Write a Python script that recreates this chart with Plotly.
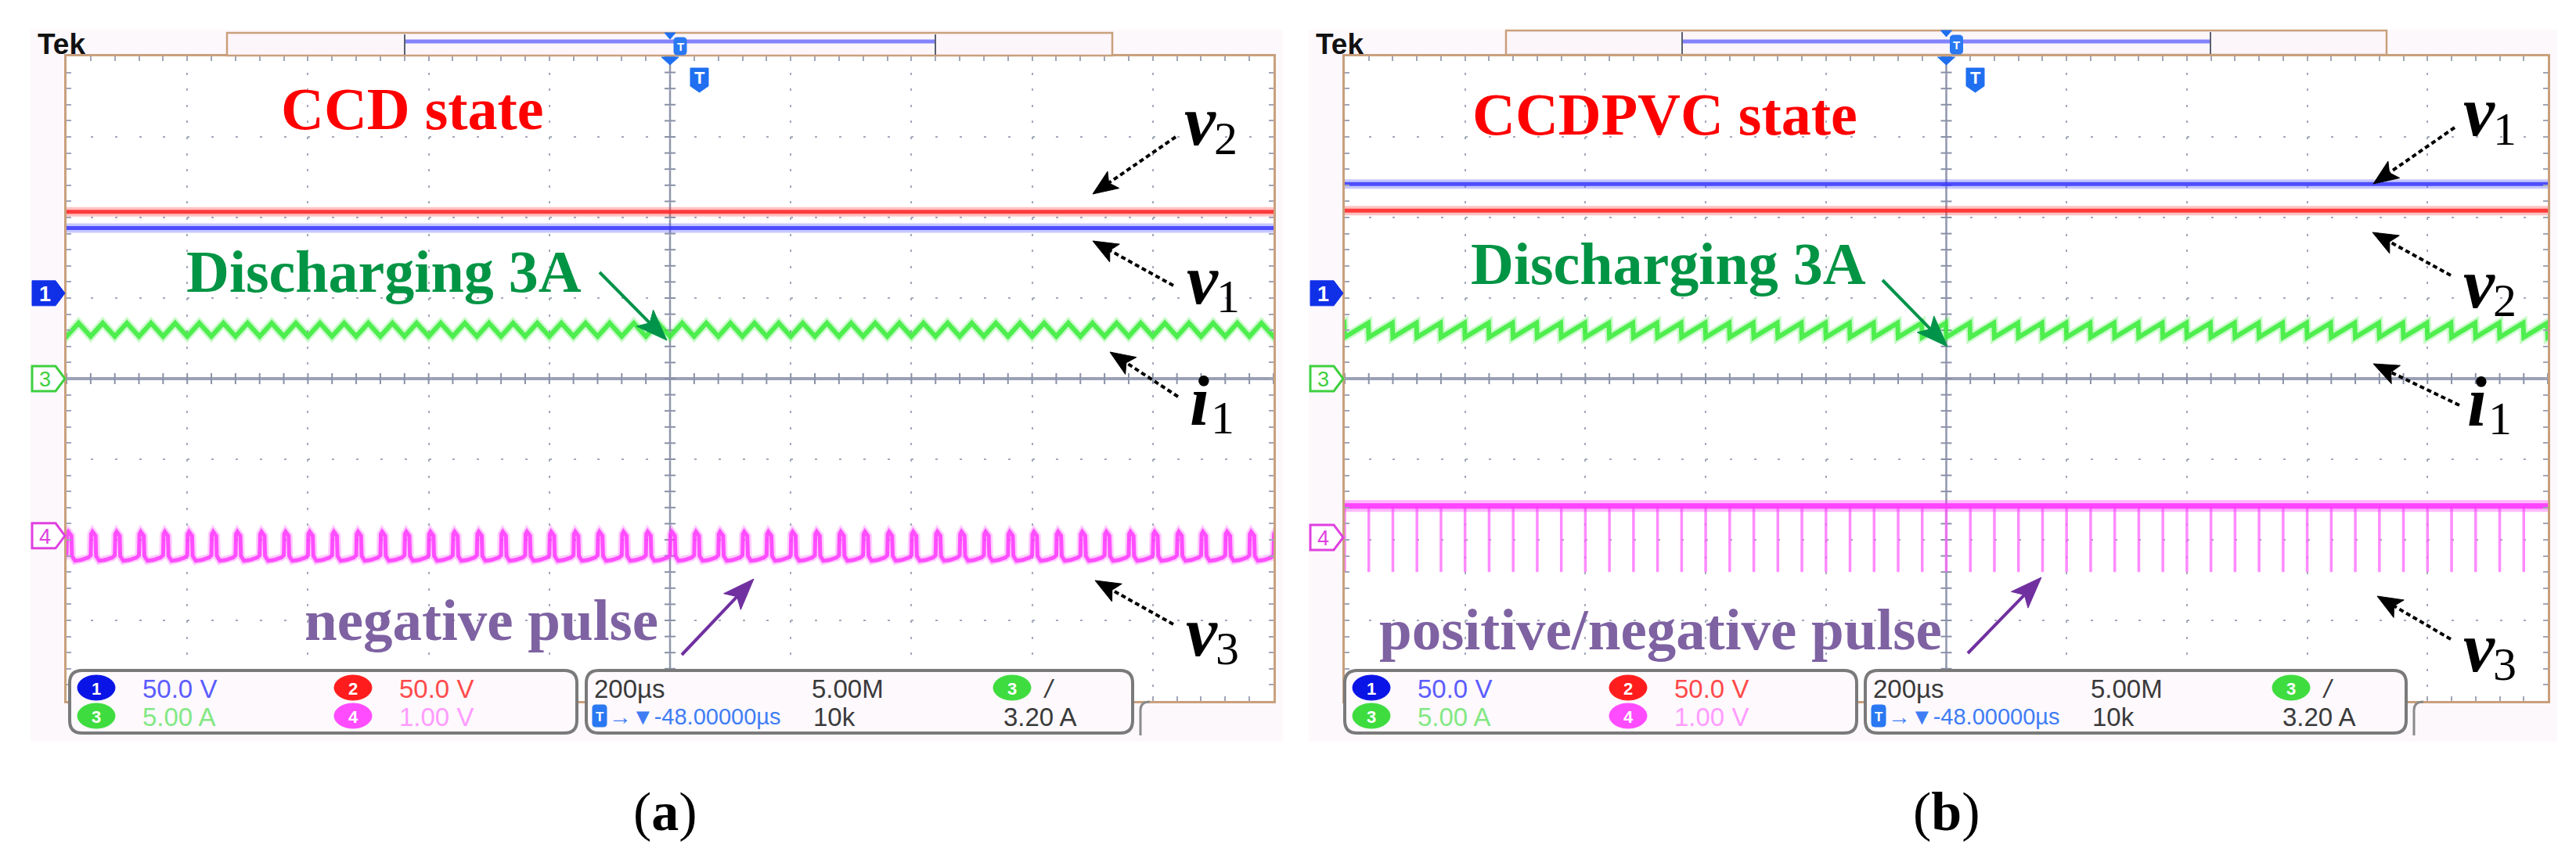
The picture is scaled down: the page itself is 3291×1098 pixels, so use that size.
import math
import plotly.graph_objects as go

W, H = 3291, 1098

# ---------------- data ----------------
panel_ids = ["a", "b"]
panel_titles = ["CCD state", "CCDPVC state"]
pulse_labels = ["negative pulse", "positive/negative pulse"]
current_label = "Discharging 3A"

time_per_div_us = 200.0
n_div_x = 10
n_div_y = 8
n_sub_div = 5

ch_ids = ["1", "2", "3", "4"]
ch_scale = [50.0, 50.0, 5.00, 1.00]              # units per division
ch_scale_text = ["50.0 V", "50.0 V", "5.00 A", "1.00 V"]
ch_ground_div_a = [1.06, 1.06, 0.0, -1.95]       # ground marker position (div)
ch_ground_div_b = [1.06, 1.06, 0.0, -1.97]

horiz_scale_text = "200µs"
sample_rate_text = "5.00M"
record_len_text = "10k"
trig_pos_text = "→▼-48.00000µs"
trig_level_text = "3.20 A"

v1_level_a = 40.5     # V  (blue)
v2_level_a = 50.5     # V  (red)
v1_level_b = 67.8
v2_level_b = 51.3

switch_period_us = 40.0
# one switching period of i1 (A): triangle in (a), saw-tooth in (b)
i1_shape_t_a = [0.0, 20.0]
i1_shape_v_a = [2.62, 3.45]
i1_shape_t_b = [0.0, 39.0]
i1_shape_v_b = [2.57, 3.45]
# one switching period of v3 (V) in (a): short return to zero, negative otherwise
v3_shape_t_a = [0.0, 0.8, 3.0, 8.0, 9.0, 14.0, 24.0, 36.0, 39.2]
v3_shape_v_a = [-0.24, 0.02, 0.05, 0.0, -0.25, -0.31, -0.30, -0.27, -0.24]
# v3 in (b): positive level with narrow negative spikes
v3_level_b = 0.39
v3_spike_b = -0.43

# ---------------- layout constants (pixels) ----------------
GRID = {"a": (85, 72, 1627, 896), "b": (1718, 72, 3255, 896)}
SERIF = "Liberation Serif, Times New Roman, serif"
SANS = "Liberation Sans, Arial, sans-serif"
NARROW = "Liberation Sans Narrow, Arial Narrow, Liberation Sans, Arial, sans-serif"

shapes = []
annotations = []


def px(x):
    return x / W


def py(y):
    return 1 - y / H


def path_str(cmds):
    out = []
    for c in cmds:
        if c[0] == "Z":
            out.append("Z")
            continue
        vals = c[1:]
        pts = [f"{px(vals[i]):.6f},{py(vals[i + 1]):.6f}" for i in range(0, len(vals), 2)]
        out.append(c[0] + " " + " ".join(pts))
    return " ".join(out)


def poly(points):
    cmds = [("M",) + points[0]] + [("L",) + p for p in points[1:]] + [("Z",)]
    return path_str(cmds)


def add_rect(x0, y0, x1, y1, fill="rgba(0,0,0,0)", lc="rgba(0,0,0,0)", lw=0, layer="above"):
    shapes.append(dict(type="rect", xref="paper", yref="paper", x0=px(x0), x1=px(x1),
                       y0=py(y1), y1=py(y0), fillcolor=fill,
                       line=dict(color=lc, width=lw), layer=layer))


def add_path(p, fill="rgba(0,0,0,0)", lc="rgba(0,0,0,0)", lw=0, layer="above"):
    shapes.append(dict(type="path", xref="paper", yref="paper", path=p, fillcolor=fill,
                       line=dict(color=lc, width=lw), layer=layer))


def add_line(x0, y0, x1, y1, color, width, dash=None, layer="above"):
    ln = dict(color=color, width=width)
    if dash:
        ln["dash"] = dash
    shapes.append(dict(type="line", xref="paper", yref="paper", x0=px(x0), y0=py(y0),
                       x1=px(x1), y1=py(y1), line=ln, layer=layer))


def add_ellipse(cx, cy, rx, ry, fill):
    shapes.append(dict(type="circle", xref="paper", yref="paper", x0=px(cx - rx), x1=px(cx + rx),
                       y0=py(cy + ry), y1=py(cy - ry), fillcolor=fill,
                       line=dict(color=fill, width=1), layer="above"))


def add_text(x, y, s, size, color, family=SERIF, xanchor="center", yanchor="middle"):
    annotations.append(dict(xref="paper", yref="paper", x=px(x), y=py(y), text=s,
                            showarrow=False, xanchor=xanchor, yanchor=yanchor,
                            font=dict(size=size, color=color, family=family)))


def rrect(x0, y0, x1, y1, r):
    return path_str([("M", x0 + r, y0), ("L", x1 - r, y0), ("Q", x1, y0, x1, y0 + r),
                     ("L", x1, y1 - r), ("Q", x1, y1, x1 - r, y1), ("L", x0 + r, y1),
                     ("Q", x0, y1, x0, y1 - r), ("L", x0, y0 + r), ("Q", x0, y0, x0 + r, y0), ("Z",)])


def add_arrow(tail, head, color, width, dash=None, head_len=32, head_w=13):
    tx, ty = tail
    hx, hy = head
    dx, dy = hx - tx, hy - ty
    L = math.hypot(dx, dy)
    ux, uy = dx / L, dy / L
    nx, ny = -uy, ux
    bx, by = hx - head_len * ux, hy - head_len * uy
    ix, iy = hx - 0.78 * head_len * ux, hy - 0.78 * head_len * uy
    add_line(tx, ty, ix, iy, color, width, dash)
    add_path(poly([(hx, hy), (bx + head_w * nx, by + head_w * ny), (ix, iy),
                   (bx - head_w * nx, by - head_w * ny)]), fill=color, lc=color, lw=1)


def tile(shape_t, shape_v, period, t_min, t_max):
    xs, ys = [], []
    k = math.floor(t_min / period) - 1
    while k * period <= t_max + period:
        for t, v in zip(shape_t, shape_v):
            xs.append(k * period + t)
            ys.append(v)
        k += 1
    return xs, ys


fig = go.Figure()
t_half = n_div_x / 2 * time_per_div_us
y_half = n_div_y / 2

BLUE = "rgba(55,55,255,{a})"
RED = "rgba(255,35,35,{a})"
GREEN = "rgba(55,235,55,{a})"
MAG = "rgba(255,55,255,{a})"
GRAT = "#8a91a8"


def band(xref, yref, xs, ys, col, w_glow, w_core, a_glow=0.3, a_core=0.9):
    fig.add_trace(go.Scatter(x=xs, y=ys, mode="lines", xaxis=xref, yaxis=yref,
                             line=dict(color=col.format(a=a_glow), width=w_glow),
                             hoverinfo="skip", showlegend=False))
    fig.add_trace(go.Scatter(x=xs, y=ys, mode="lines", xaxis=xref, yaxis=yref,
                             line=dict(color=col.format(a=a_core), width=w_core),
                             hoverinfo="skip", showlegend=False))


for idx, pid in enumerate(panel_ids):
    xr = "x" if idx == 0 else "x2"
    yr = "y" if idx == 0 else "y2"
    gnd = ch_ground_div_a if pid == "a" else ch_ground_div_b
    v1 = v1_level_a if pid == "a" else v1_level_b
    v2 = v2_level_a if pid == "a" else v2_level_b

    # center-line graticule ticks (drawn first, under the traces)
    sub_t = time_per_div_us / n_sub_div
    nt = int(round(2 * t_half / sub_t))
    fig.add_trace(go.Scatter(x=[-t_half + i * sub_t for i in range(nt + 1)], y=[0] * (nt + 1),
                             mode="markers", xaxis=xr, yaxis=yr,
                             marker=dict(symbol="line-ns-open", size=10, color=GRAT,
                                         line=dict(color=GRAT, width=2)),
                             hoverinfo="skip", showlegend=False))
    ny_ = int(round(2 * y_half * n_sub_div))
    fig.add_trace(go.Scatter(x=[0] * (ny_ + 1), y=[-y_half + i / n_sub_div for i in range(ny_ + 1)],
                             mode="markers", xaxis=xr, yaxis=yr,
                             marker=dict(symbol="line-ew-open", size=10, color=GRAT,
                                         line=dict(color=GRAT, width=2)),
                             hoverinfo="skip", showlegend=False))

    # v2 (red) and v1 (blue)
    band(xr, yr, [-t_half, t_half], [gnd[1] + v2 / ch_scale[1]] * 2, RED, 12, 5, 0.28, 0.85)
    band(xr, yr, [-t_half, t_half], [gnd[0] + v1 / ch_scale[0]] * 2, BLUE, 12, 5, 0.28, 0.85)

    # i1 (green)
    st, sv = (i1_shape_t_a, i1_shape_v_a) if pid == "a" else (i1_shape_t_b, i1_shape_v_b)
    ts, vs = tile(st, sv, switch_period_us, -t_half, t_half)
    band(xr, yr, ts, [gnd[2] + v / ch_scale[2] for v in vs], GREEN, 11, 6, 0.25, 0.85)

    # v3 (magenta)
    if pid == "a":
        ts, vs = tile(v3_shape_t_a, v3_shape_v_a, switch_period_us, -t_half, t_half)
        band(xr, yr, ts, [gnd[3] + v / ch_scale[3] for v in vs], MAG, 10, 5, 0.25, 0.85)
    else:
        sx, sy = [], []
        k = math.ceil(-t_half / switch_period_us)
        while k * switch_period_us < t_half:
            t = k * switch_period_us
            sx += [t, t, None]
            sy += [gnd[3] + v3_level_b / ch_scale[3], gnd[3] + v3_spike_b / ch_scale[3], None]
            k += 1
        fig.add_trace(go.Scatter(x=sx, y=sy, mode="lines", xaxis=xr, yaxis=yr,
                                 line=dict(color="rgba(255,100,255,0.75)", width=3.5),
                                 hoverinfo="skip", showlegend=False))
        band(xr, yr, [-t_half, t_half], [gnd[3] + v3_level_b / ch_scale[3]] * 2, MAG, 15, 7, 0.35, 0.9)

# ---------------- axes (graticule) ----------------
axes = {}
for idx, pid in enumerate(panel_ids):
    gx0, gy0, gx1, gy1 = GRID[pid]
    xdash_period = (gy1 - gy0) / n_div_y / n_sub_div
    ydash_period = (gx1 - gx0) / n_div_x / n_sub_div
    sfx = "" if idx == 0 else "2"
    axes["xaxis" + sfx] = dict(
        domain=[px(gx0), px(gx1)], range=[-t_half, t_half], anchor="y" + sfx,
        showticklabels=False, dtick=time_per_div_us, tick0=0,
        showgrid=True, gridcolor="#a3a9bb", gridwidth=2,
        griddash=f"3px,{xdash_period - 3:.2f}px",
        zeroline=False,
        showline=True, linecolor="#c9a07c", linewidth=3, mirror="ticks",
        ticks="inside", ticklen=6, tickcolor="#a0a6b8", tickwidth=1.5,
        minor=dict(dtick=time_per_div_us / n_sub_div, ticks="inside", ticklen=6,
                   tickcolor="#a0a6b8", tickwidth=1.5, showgrid=False),
        fixedrange=True)
    axes["yaxis" + sfx] = dict(
        domain=[py(gy1), py(gy0)], range=[-y_half, y_half], anchor="x" + sfx,
        showticklabels=False, dtick=1, tick0=0,
        showgrid=True, gridcolor="#a3a9bb", gridwidth=2,
        griddash=f"3px,{ydash_period - 3:.2f}px",
        zeroline=False,
        showline=True, linecolor="#c9a07c", linewidth=3, mirror="ticks",
        ticks="inside", ticklen=6, tickcolor="#a0a6b8", tickwidth=1.5,
        minor=dict(dtick=1 / n_sub_div, ticks="inside", ticklen=6,
                   tickcolor="#a0a6b8", tickwidth=1.5, showgrid=False),
        fixedrange=True)

# ---------------- decorations ----------------
TOPBOX = {"a": (290, 42, 1421, 71, 517, 1195), "b": (1924, 39, 3049, 70, 2149, 2824)}
TEK_X = {"a": 46, "b": 1679}
TBADGE_X = {"a": 882, "b": 2512}
TITLE_POS = {"a": (527, 139), "b": (2127, 146)}
CURR_POS = {"a": (490, 347), "b": (2131, 337)}
PULSE_POS = {"a": (615, 792), "b": (2121, 804)}
GREEN_ARROW = {"a": ((766, 348), (852, 435)), "b": ((2405, 358), (2488, 443))}
PURPLE_ARROW = {"a": ((871, 837), (963, 740)), "b": ((2514, 835), (2608, 738))}
LABELS = {
    "a": [("v", "2", 1511, 185), ("v", "1", 1514, 387), ("i", "1", 1518, 542), ("v", "3", 1513, 837)],
    "b": [("v", "1", 3145, 173), ("v", "2", 3145, 392), ("i", "1", 3150, 543), ("v", "3", 3145, 857)],
}
BLACK_ARROWS = {
    "a": [((1502, 175), (1396, 248)), ((1499, 365), (1396, 308)),
          ((1505, 507), (1418, 450)), ((1499, 798), (1399, 742))],
    "b": [((3136, 163), (3032, 235)), ((3131, 352), (3031, 297)),
          ((3142, 518), (3032, 465)), ((3131, 817), (3037, 762))],
}
INFO1 = {"a": (89, 737), "b": (1718, 2372)}
INFO2 = {"a": (749, 1447), "b": (2383, 3074)}
LABEL_XY = {"a": (850, 1037), "b": (2487, 1037)}
CAPTION = ["(<b>a</b>)", "(<b>b</b>)"]

ch_marker_fill = ["#1030e8", "#ff2020", "#3fcf3f", "#e040e0"]
ch_circle = ["#0a14e6", "#ff1c1c", "#3fdc3f", "#ff4cff"]
ch_text_col = ["#5c5cff", "#ff4a4a", "#84e884", "#ff9cff"]

for idx, pid in enumerate(panel_ids):
    gx0, gy0, gx1, gy1 = GRID[pid]
    div_h = (gy1 - gy0) / n_div_y
    gnd = ch_ground_div_a if pid == "a" else ch_ground_div_b
    xc = (gx0 + gx1) / 2
    ycn = (gy0 + gy1) / 2

    # panel background (faint pink) and white graticule with solid center lines
    add_rect(gx0 - 46, gy0 - 34, gx1 + 12, 948, fill="#fdf8fc", layer="below")
    add_rect(gx0, gy0, gx1, gy1, fill="#ffffff", layer="below")
    add_line(gx0, ycn, gx1, ycn, "#9aa0b6", 4, layer="below")
    add_line(xc, gy0, xc, gy1, "#8f96ac", 2.5, layer="below")

    # top record bar
    bx0, by0, bx1, by1, lx0, lx1 = TOPBOX[pid]
    add_rect(bx0, by0, bx1, by1, fill="#fcf6fb", lc="#c9a07c", lw=2.5)
    add_line(lx0, 53, lx1, 53, "rgba(110,110,255,0.85)", 5)
    add_line(lx0, by0 + 2, lx0, by1 - 1, "#5a6070", 2)
    add_line(lx1, by0 + 2, lx1, by1 - 1, "#5a6070", 2)
    add_path(poly([(xc - 7, by0), (xc + 7, by0), (xc, by0 + 8)]), fill="#1f6ff0", lc="#1f6ff0", lw=1)
    add_path(rrect(xc + 5, by0 + 6, xc + 21, by1 - 1, 4), fill="#2a78f2", lc="#2a78f2", lw=1)
    add_text(xc + 13, (by0 + by1) / 2 + 3, "<b>T</b>", 15, "white", SANS)
    add_path(poly([(xc - 11, gy0 + 1), (xc + 11, gy0 + 1), (xc, gy0 + 11)]), fill="#1f6ff0", lc="#1f6ff0", lw=1)
    tb = TBADGE_X[pid]
    add_path(poly([(tb, 87), (tb + 23, 87), (tb + 23, 110), (tb + 11.5, 118), (tb, 110)]),
             fill="#1f6ff0", lc="#1f6ff0", lw=1)
    add_text(tb + 11.5, 100, "<b>T</b>", 22, "white", SANS)
    add_text(TEK_X[pid], 57, "<b>Tek</b>", 37, "#111111", SANS, xanchor="left")

    # channel ground markers
    for ci, filled in [(0, True), (2, False), (3, False)]:
        yy = gy0 + (n_div_y / 2 - gnd[ci]) * div_h
        mx0, mx1 = gx0 - 44, gx0 - 2
        pts = [(mx0, yy - 16), (mx1 - 12, yy - 16), (mx1, yy), (mx1 - 12, yy + 16), (mx0, yy + 16)]
        if filled:
            add_path(poly(pts), fill=ch_marker_fill[ci], lc=ch_marker_fill[ci], lw=1)
            add_text(mx0 + 16, yy + 1, "<b>" + ch_ids[ci] + "</b>", 27, "white", SANS)
        else:
            add_path(poly(pts), fill="#ffffff", lc=ch_marker_fill[ci], lw=3)
            add_text(mx0 + 16, yy + 1, ch_ids[ci], 27, ch_marker_fill[ci], SANS)

    # info boxes
    i0, i1 = INFO1[pid]
    add_path(rrect(i0, 857, i1, 937, 16), fill="#fdf9fd", lc="#7a7a7a", lw=4)
    j0, j1 = INFO2[pid]
    add_path(rrect(j0, 857, j1, 937, 16), fill="#fdf9fd", lc="#7a7a7a", lw=4)
    add_path(path_str([("M", j1 + 10, 940), ("L", j1 + 10, 908), ("Q", j1 + 10, 897, j1 + 22, 897)]),
             lc="#8a8a8a", lw=3)
    rows = [879, 915]
    for ci in range(4):
        rx = i0 + (34 if ci % 2 == 0 else 362)
        ry = rows[ci // 2]
        add_ellipse(rx, ry, 24, 16, ch_circle[ci])
        add_text(rx, ry + 1, "<b>" + ch_ids[ci] + "</b>", 22, "white", SANS)
        add_text(rx + 57, ry + 1, ch_scale_text[ci], 33, ch_text_col[ci], NARROW, xanchor="left")
    add_text(j0 + 8, rows[0] + 1, horiz_scale_text, 33, "#3a3a3a", NARROW, xanchor="left")
    add_text(j0 + 286, rows[0] + 1, sample_rate_text, 33, "#3a3a3a", NARROW, xanchor="left")
    add_ellipse(j0 + 544, rows[0], 24, 16, ch_circle[2])
    add_text(j0 + 544, rows[0] + 1, "<b>3</b>", 22, "white", SANS)
    add_text(j0 + 582, rows[0] + 1, "<i>/</i>", 33, "#3a3a3a", NARROW, xanchor="left")
    add_path(rrect(j0 + 8, rows[1] - 14, j0 + 26, rows[1] + 14, 4), fill="#2a78f2", lc="#2a78f2", lw=1)
    add_text(j0 + 17, rows[1] + 1, "<b>T</b>", 17, "white", SANS)
    add_text(j0 + 27, rows[1] + 1, trig_pos_text, 29, "#3f7df5", NARROW, xanchor="left")
    add_text(j0 + 288, rows[1] + 1, record_len_text, 33, "#3a3a3a", NARROW, xanchor="left")
    add_text(j0 + 531, rows[1] + 1, trig_level_text, 33, "#3a3a3a", NARROW, xanchor="left")

    # figure annotations
    add_text(*TITLE_POS[pid], "<b>" + panel_titles[idx] + "</b>", 76, "#ff0000")
    add_text(*CURR_POS[pid], "<b>" + current_label + "</b>", 76, "#009444")
    add_text(*PULSE_POS[pid], "<b>" + pulse_labels[idx] + "</b>", 75, "#7e62a2")
    add_arrow(*GREEN_ARROW[pid], "#00934a", 4, head_len=40, head_w=15)
    add_arrow(*PURPLE_ARROW[pid], "#7030a0", 4, head_len=40, head_w=15)
    for (tail, head) in BLACK_ARROWS[pid]:
        add_arrow(tail, head, "#000000", 4, dash="6px,4px", head_len=32, head_w=13)
    for sym, sub, lx, base in LABELS[pid]:
        add_text(lx, base - 30, f"<b><i>{sym}</i></b>", 90, "#000000", SERIF, xanchor="left")
        sub_dx = 38 if sym == "v" else 27
        add_text(lx + sub_dx, base - 8, sub, 60, "#000000", SERIF, xanchor="left")
    add_text(*LABEL_XY[pid], CAPTION[idx], 70, "#000000", SERIF)

fig.update_layout(
    width=W, height=H, autosize=False,
    margin=dict(l=0, r=0, t=0, b=0, pad=0),
    paper_bgcolor="#ffffff", plot_bgcolor="rgba(0,0,0,0)",
    showlegend=False, shapes=shapes, annotations=annotations,
    **axes,
)

fig.write_html("out.html", config={"displayModeBar": False},
               post_script="document.body.style.margin='0';document.body.style.overflow='hidden';")
